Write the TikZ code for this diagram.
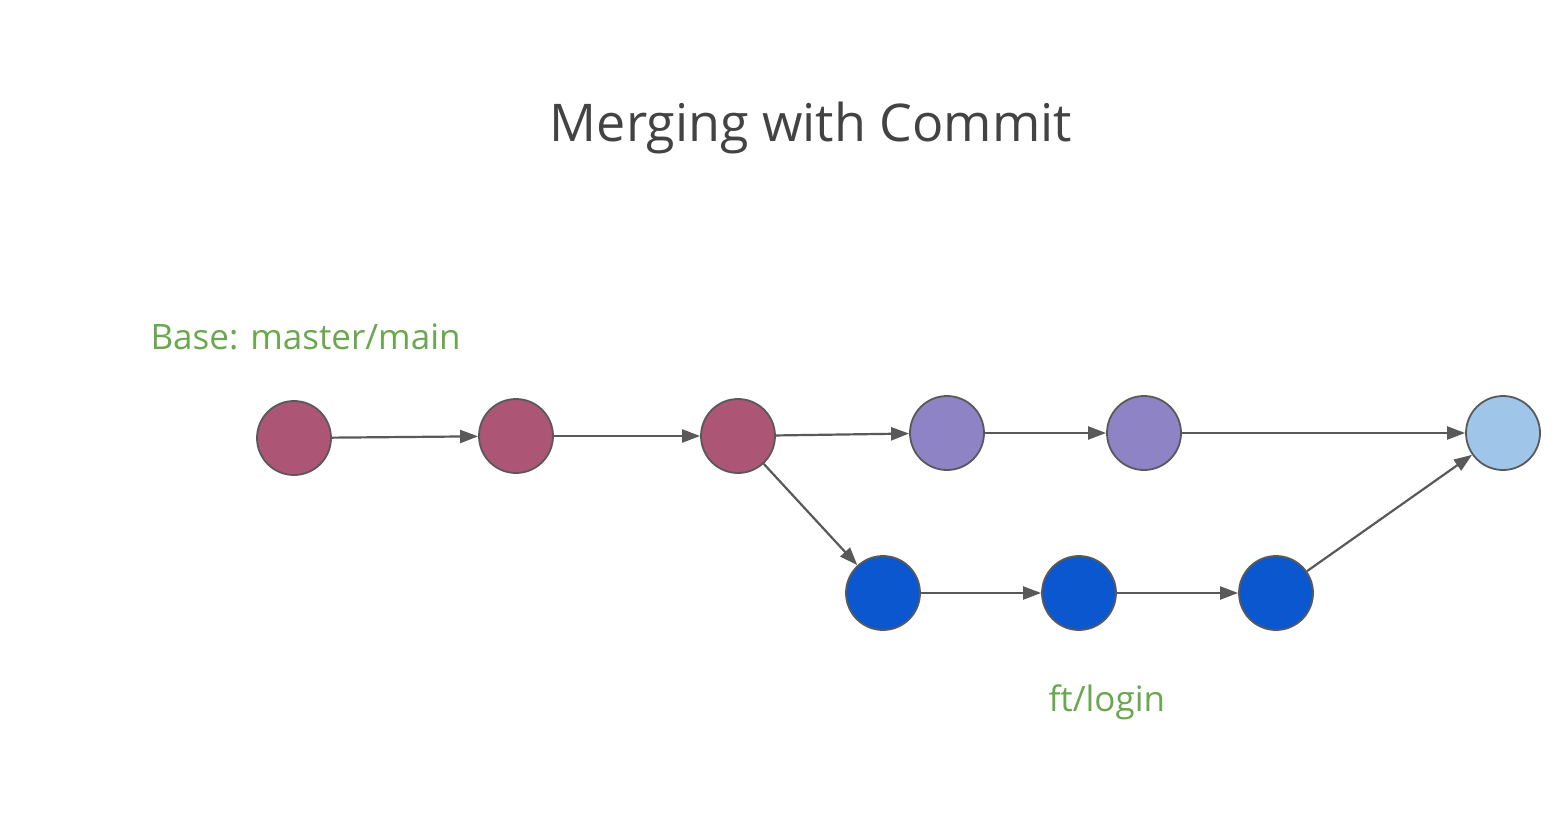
\documentclass[tikz,border=0pt]{standalone}
\usepackage{fontspec}
\setmainfont{Open Sans}
\usetikzlibrary{arrows.meta}

\definecolor{basecol}{HTML}{AD5574}
\definecolor{maincol}{HTML}{8E83C4}
\definecolor{featcol}{HTML}{0B57D0}
\definecolor{mergecol}{HTML}{9FC5E8}
\definecolor{linecol}{HTML}{595959}
\definecolor{labelcol}{HTML}{6AA84F}
\definecolor{titlecol}{HTML}{434343}

\begin{document}
\begin{tikzpicture}[
            x=1pt, y=-1pt,
            commit/.style={circle,draw=linecol,line width=1.8pt,minimum size=74pt,inner sep=0pt},
            link/.style={-{Triangle[length=18pt,width=13pt]},draw=linecol,line width=2.2pt},
            branch/.style={text=labelcol,font=\fontsize{35}{42}\selectfont,anchor=base west},
            ]
            \useasboundingbox (0,0) rectangle (1556,838);

            \node[text=titlecol,font=\fontsize{52}{62}\selectfont,anchor=base] (title) at (811,141) {Merging with Commit};
            \node[branch] (base) at (147,349) {Base: master/main};
            \node[branch] (ft) at (1045,711) {ft/login};

            \node[commit, fill=basecol] (a1) at (294,438) {};
            \node[commit, fill=basecol] (a2) at (516,436) {};
            \node[commit, fill=basecol] (a3) at (738,436) {};
            \node[commit, fill=maincol] (p1) at (947,433) {};
            \node[commit, fill=maincol] (p2) at (1144,433) {};
            \node[commit, fill=mergecol] (m) at (1503,433) {};
            \node[commit, fill=featcol] (b1) at (883,593) {};
            \node[commit, fill=featcol] (b2) at (1079,593) {};
            \node[commit, fill=featcol] (b3) at (1276,593) {};

            \draw[link] (a1) -- (a2);
            \draw[link] (a2) -- (a3);
            \draw[link] (a3) -- (p1);
            \draw[link] (p1) -- (p2);
            \draw[link] (p2) -- (m);
            \draw[link] (a3) -- (b1);
            \draw[link] (b1) -- (b2);
            \draw[link] (b2) -- (b3);
            \draw[link] (b3) -- (m);
        \end{tikzpicture}
\end{document}
